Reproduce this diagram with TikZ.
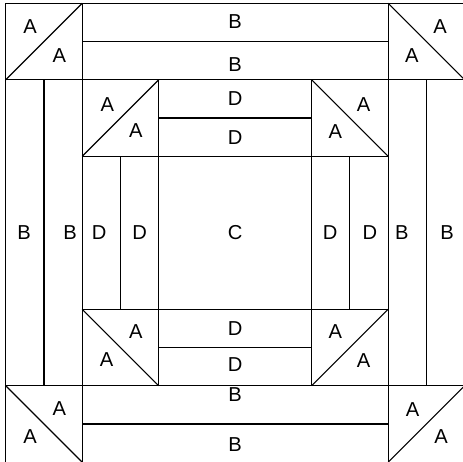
\documentclass[tikz,border=0pt]{standalone}
\usepackage{fontspec}
\setmainfont{Liberation Sans}
\usetikzlibrary{positioning}

\begin{document}
\begin{tikzpicture}[x=2cm,y=2cm,line width=0.8pt,
  patch/.style={font=\fontsize{15}{17}\selectfont,inner sep=0pt}]
\useasboundingbox (-0.075,0.008) rectangle (5.978,6.043);

% Frame
\draw (0,0) rectangle (6,6);
\draw (0,1) -- (6,1);
\draw (0,5) -- (6,5);
\draw (1,0) -- (1,6);
\draw (5,0) -- (5,6);

% B strips
\draw (1,5.5) -- (5,5.5);
\draw (1,0.5) -- (5,0.5);
\draw (0.5,1) -- (0.5,5);
\draw (5.5,1) -- (5.5,5);

% Inner frame
\draw (1,4) -- (5,4);
\draw (1,2) -- (5,2);
\draw (2,1) -- (2,5);
\draw (4,1) -- (4,5);

% D strips
\draw (2,4.5) -- (4,4.5);
\draw (2,1.5) -- (4,1.5);
\draw (1.5,2) -- (1.5,4);
\draw (4.5,2) -- (4.5,4);

% Half-square triangles
\draw (0,5) -- (1,6);
\draw (1,4) -- (2,5);
\draw (5,6) -- (6,5);
\draw (4,5) -- (5,4);
\draw (1,2) -- (2,1);
\draw (0,1) -- (1,0);
\draw (4,1) -- (5,2);
\draw (5,0) -- (6,1);

% A patches
\node[patch] (a1) at (0.32,5.69) {A};
\node[patch] (a2) at (0.70,5.32) {A};
\node[patch] (a3) at (1.33,4.68) {A};
\node[patch] (a4) at (1.70,4.33) {A};
\node[patch] (a5) at (5.68,5.69) {A};
\node[patch] (a6) at (5.31,5.32) {A};
\node[patch] (a7) at (4.68,4.68) {A};
\node[patch] (a8) at (4.31,4.32) {A};
\node[patch] (a9) at (1.70,1.71) {A};
\node[patch] (a10) at (1.32,1.34) {A};
\node[patch] (a11) at (0.70,0.70) {A};
\node[patch] (a12) at (0.32,0.34) {A};
\node[patch] (a13) at (4.31,1.71) {A};
\node[patch] (a14) at (4.68,1.33) {A};
\node[patch] (a15) at (5.32,0.69) {A};
\node[patch] (a16) at (5.69,0.33) {A};

% B patches
\node[patch] (b1) at (3,5.76) {B};
\node[patch] (b2) at (3,5.20) {B};
\node[patch] (b3) at (0.24,3) {B};
\node[patch] (b4) at (0.84,3) {B};
\node[patch] (b5) at (5.18,3) {B};
\node[patch] (b6) at (5.77,3) {B};
\node[patch] (b7) at (3,0.88) {B};
\node[patch] (b8) at (3,0.23) {B};

% D patches
\node[patch] (d1) at (3,4.75) {D};
\node[patch] (d2) at (3,4.25) {D};
\node[patch] (d3) at (1.22,3) {D};
\node[patch] (d4) at (1.75,3) {D};
\node[patch] (d5) at (4.24,3) {D};
\node[patch] (d6) at (4.76,3) {D};
\node[patch] (d7) at (3,1.75) {D};
\node[patch] (d8) at (3,1.28) {D};

% C patch
\node[patch] (c) at (3,3) {C};
\end{tikzpicture}
\end{document}
